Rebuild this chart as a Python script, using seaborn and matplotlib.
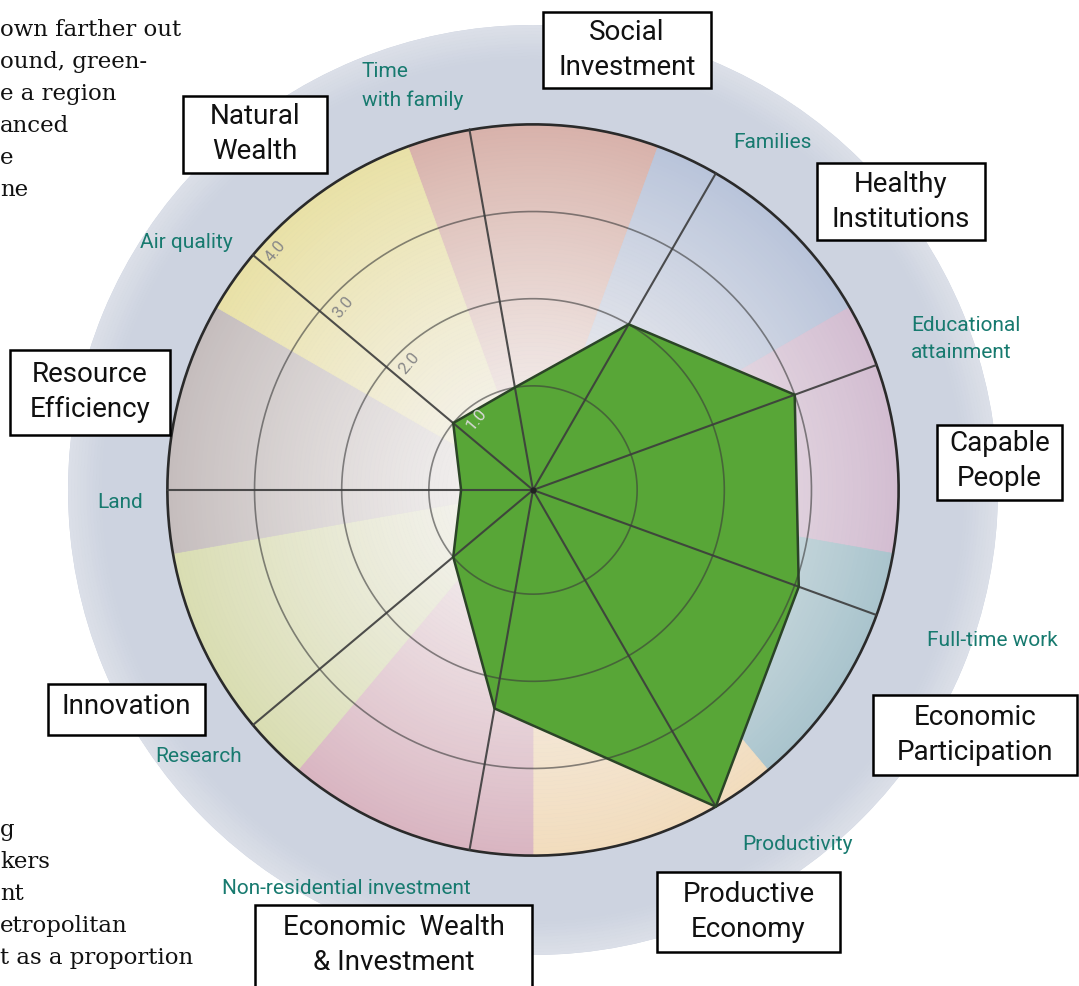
import numpy as np
import matplotlib
matplotlib.use("Agg")
import matplotlib.pyplot as plt
from matplotlib.colors import to_rgb
from matplotlib.patches import Rectangle
import seaborn as sns

# indicators, clockwise from the top spoke
indicators = ["Time\nwith family", "Families", "Educational\nattainment", "Full-time work",
              "Productivity", "Non-residential investment", "Research", "Land", "Air quality"]
scores = [1.0, 2.0, 3.0, 3.05, 4.0, 2.35, 1.0, 0.63, 1.0]

# one coloured wedge per category, same order as the indicators
categories = ["Social\nInvestment", "Healthy\nInstitutions", "Capable\nPeople",
              "Economic\nParticipation", "Productive\nEconomy", "Economic  Wealth\n& Investment",
              "Innovation", "Resource\nEfficiency", "Natural\nWealth"]
category_colors = ["#d8b2aa", "#b9c4da", "#d3bdd1", "#a9c4cd", "#f2dcbd",
                   "#d9b5c1", "#d9ddb2", "#c5bdbd", "#e9e1a6"]

ring_values = [1.0, 2.0, 3.0, 4.0]
ring_labels = ["1.0", "2.0", "3.0", "4.0"]

# page text cut off at the left edge
text_top = ["own farther out", "ound, green-", "e a region", "anced", "e", "ne"]
text_bottom = ["g", "kers", "nt", "etropolitan", "t as a proportion"]

# layout (pixels)
W, H = 1079, 986
cx, cy, R = 533, 490, 465
rmin, rmax = -0.195, 5.14

label_pos = [(362, 86), (733, 143), (911, 339), (927, 640), (742, 845),
             (222, 888), (155, 757), (97, 502), (140, 242)]
box_px = [(543, 12, 711, 88), (817, 163, 985, 240), (937, 425, 1062, 500),
          (873, 695, 1077, 775), (657, 872, 840, 952), (255, 905, 532, 1010),
          (48, 684, 205, 735), (10, 350, 170, 435), (183, 96, 327, 173)]
box_text_y = [50, 202, 461, 735, 912, 945, 706, 392, 134]


def fx(x):
    return x / W


def fy(y):
    return 1 - y / H


sns.set_theme(style="white")
plt.rcParams['font.family'] = ['Roboto', 'DejaVu Sans']

fig = plt.figure(figsize=(W / 100, H / 100), dpi=100)
fig.patch.set_facecolor("white")

ax = fig.add_axes([(cx - R) / W, (H - cy - R) / H, 2 * R / W, 2 * R / H], projection="polar")
ax.set_theta_offset(np.deg2rad(100))
ax.set_theta_direction(-1)
ax.set_facecolor("#cdd3e0")
ax.grid(False)
ax.spines["polar"].set_visible(False)

n = len(indicators)
step = 2 * np.pi / n
theta = np.arange(n) * step

# soft light rim on the outer disc
rim = np.linspace(4.75, rmax, 12)
disc_in, disc_out = np.array(to_rgb("#cdd3e0")), np.array(to_rgb("#dce0e8"))
for b0, b1 in zip(rim[:-1], rim[1:]):
    t = ((b0 + b1) / 2 - rim[0]) / (rmax - rim[0])
    c = disc_in + (disc_out - disc_in) * t
    ax.bar(0, b1 - b0, width=2 * np.pi, bottom=b0, color=c, edgecolor=c,
           linewidth=0.5, zorder=0.5)

# background wedges with a radial gradient (white centre -> category colour)
bands = np.linspace(rmin, 4.0, 90)
inner = np.array(to_rgb("#f6f4f3"))
for k, col in enumerate(category_colors):
    outer = np.array(to_rgb(col))
    for b0, b1 in zip(bands[:-1], bands[1:]):
        t = ((b0 + b1) / 2 - rmin) / (4.0 - rmin)
        c = inner + (outer - inner) * t ** 1.3
        ax.bar(theta[k] + step / 4, b1 - b0, width=step, bottom=b0,
               color=c, edgecolor=c, linewidth=0.5, zorder=1)

# score polygon
th_c = np.append(theta, theta[0])
sc_c = np.append(scores, scores[0])
ax.fill(th_c, sc_c, color="#58a637", linewidth=0, zorder=2)

# rings and spokes
circ = np.linspace(0, 2 * np.pi, 400)
for v in ring_values[:-1]:
    ax.plot(circ, np.full_like(circ, v), color="#3a3a3a", lw=1.2, alpha=0.6, zorder=3)
ax.plot(circ, np.full_like(circ, ring_values[-1]), color="#2a2a2a", lw=1.9, zorder=3)
for th in theta:
    ax.plot([th, th], [rmin, 4.0], color="#3c3c3c", lw=1.5, alpha=0.9, zorder=4)

sns.lineplot(x=th_c, y=sc_c, sort=False, estimator=None, ax=ax,
             color="#2b4427", lw=1.8, zorder=5)
ax.plot([0], [rmin], "o", color="#222222", ms=3.5, zorder=6)

ax.set_ylim(rmin, rmax)
ax.set_xticks([])
ax.set_yticks([])
ax.set_xlabel("")
ax.set_ylabel("")

# radial scale along the air quality spoke
label_colors = ["#dadada", "#888888", "#888888", "#888888"]
for v, lbl, lc in zip(ring_values, ring_labels, label_colors):
    ax.annotate(lbl, xy=(theta[8], v), xytext=(7.2, -0.4), textcoords="offset points",
                rotation=50, rotation_mode="anchor", ha="left", va="top",
                fontsize=12, color=lc, zorder=7)

# indicator names
for name, (x, y) in zip(indicators, label_pos):
    fig.text(fx(x), fy(y), name, ha="left", va="center", fontsize=15,
             color="#177a6f", linespacing=1.55)

# category boxes
for name, (x0, y0, x1, y1), ty in zip(categories, box_px, box_text_y):
    fig.add_artist(Rectangle((fx(x0), fy(y1)), fx(x1 - x0), (y1 - y0) / H,
                             transform=fig.transFigure, facecolor="white",
                             edgecolor="black", linewidth=1.8, zorder=8))
    fig.text(fx((x0 + x1) / 2), fy(ty), name, ha="center", va="center",
             fontsize=20, color="#111111", linespacing=1.42, zorder=9)

# body text of the page
for i, line in enumerate(text_top):
    fig.text(0, fy(30 + i * 32), line, ha="left", va="center", fontsize=16.5,
             family="DejaVu Serif", color="#111111")
for i, line in enumerate(text_bottom):
    fig.text(0, fy(830 + i * 32), line, ha="left", va="center", fontsize=16.5,
             family="DejaVu Serif", color="#111111")

fig.savefig("out.png", dpi=100, facecolor="white")
